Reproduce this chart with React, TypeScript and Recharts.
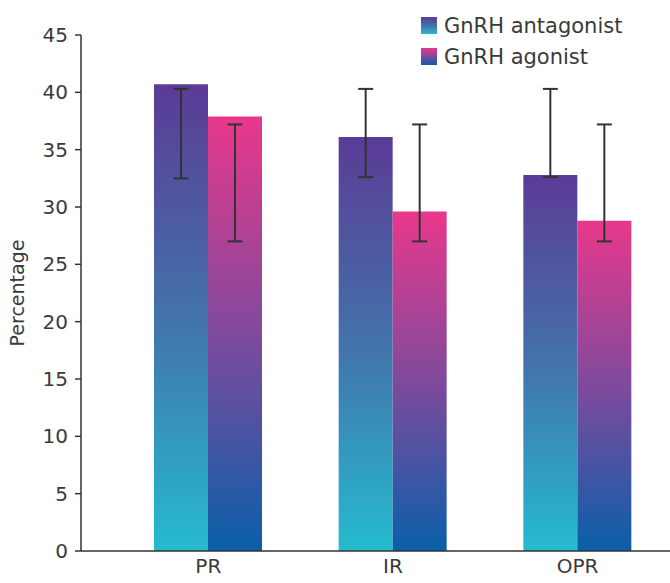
import React from 'react';
import { BarChart, Bar, XAxis, YAxis, ErrorBar } from 'recharts';

const categories = ['PR', 'IR', 'OPR'];
const antagonist = [40.7, 36.1, 32.8];
const antagonistLow = [32.5, 32.6, 32.6];
const antagonistHigh = [40.3, 40.3, 40.3];
const agonist = [37.9, 29.6, 28.8];
const agonistLow = [27.0, 27.0, 27.0];
const agonistHigh = [37.2, 37.2, 37.2];
const yTicks = [0, 5, 10, 15, 20, 25, 30, 35, 40, 45];

const data = categories.map((name, i) => ({
  name,
  antagonist: antagonist[i],
  antagonistErr: [antagonist[i] - antagonistLow[i], antagonistHigh[i] - antagonist[i]],
  agonist: agonist[i],
  agonistErr: [agonist[i] - agonistLow[i], agonistHigh[i] - agonist[i]]
}));

const FONT = '"DejaVu Sans", Verdana, sans-serif';
const TEXT = '#3a3a3a';
const AXIS = '#333333';

const LEGEND_ITEMS = [
  { label: 'GnRH antagonist', fill: 'url(#gradAntagonist)' },
  { label: 'GnRH agonist', fill: 'url(#gradAgonist)' }
];

// legend sits over the plot, top right, not reserving space
function LegendBox() {
  return (
    <div
      style={{
        position: 'absolute',
        top: 10,
        left: 421,
        fontFamily: FONT,
        fontSize: 21,
        color: TEXT
      }}
    >
      {LEGEND_ITEMS.map(item => (
        <div key={item.label} style={{ display: 'flex', alignItems: 'center', height: 31 }}>
          <svg width={16} height={17} style={{ marginRight: 7 }}>
            <rect x={0} y={0} width={16} height={17} fill={item.fill} />
          </svg>
          <span>{item.label}</span>
        </div>
      ))}
    </div>
  );
}

export default function App() {
  return (
    <div style={{ position: 'relative', width: 670, height: 583, background: '#ffffff' }}>
      <style>{'body{margin:0;}'}</style>
      <BarChart
        width={670}
        height={583}
        data={data}
        margin={{ top: 35, right: 0, bottom: 0, left: 0 }}
        barGap={0}
        barSize={54}
      >
        <defs>
          <linearGradient id="gradAntagonist" x1="0" y1="0" x2="0" y2="1">
            <stop offset="0%" stopColor="#5b3b96" />
            <stop offset="50%" stopColor="#4372ab" />
            <stop offset="100%" stopColor="#25bbcf" />
          </linearGradient>
          <linearGradient id="gradAgonist" x1="0" y1="0" x2="0" y2="1">
            <stop offset="0%" stopColor="#e9388b" />
            <stop offset="50%" stopColor="#7f4a9c" />
            <stop offset="100%" stopColor="#0a5fa9" />
          </linearGradient>
        </defs>
        <XAxis
          dataKey="name"
          padding={{ left: 35, right: 0 }}
          tickLine={false}
          axisLine={{ stroke: AXIS, strokeWidth: 1.5 }}
          tick={{ fill: TEXT, fontSize: 20, fontFamily: FONT }}
          tickMargin={2}
          height={32}
        />
        <YAxis
          width={81}
          domain={[0, 45]}
          ticks={yTicks}
          interval={0}
          axisLine={{ stroke: AXIS, strokeWidth: 1.5 }}
          tickLine={{ stroke: AXIS, strokeWidth: 1.5 }}
          tickSize={6}
          tickMargin={7}
          tick={{ fill: TEXT, fontSize: 20, fontFamily: FONT }}
          label={{
            value: 'Percentage',
            angle: -90,
            position: 'insideLeft',
            dx: 12,
            style: { fill: TEXT, fontSize: 19, fontFamily: FONT, textAnchor: 'middle' }
          }}
        />
        <Bar dataKey="antagonist" name="GnRH antagonist" fill="url(#gradAntagonist)" isAnimationActive={false}>
          <ErrorBar dataKey="antagonistErr" width={7.5} stroke="#333333" strokeWidth={2} direction="y" />
        </Bar>
        <Bar dataKey="agonist" name="GnRH agonist" fill="url(#gradAgonist)" isAnimationActive={false}>
          <ErrorBar dataKey="agonistErr" width={7.5} stroke="#333333" strokeWidth={2} direction="y" />
        </Bar>
      </BarChart>
      <LegendBox />
    </div>
  );
}
